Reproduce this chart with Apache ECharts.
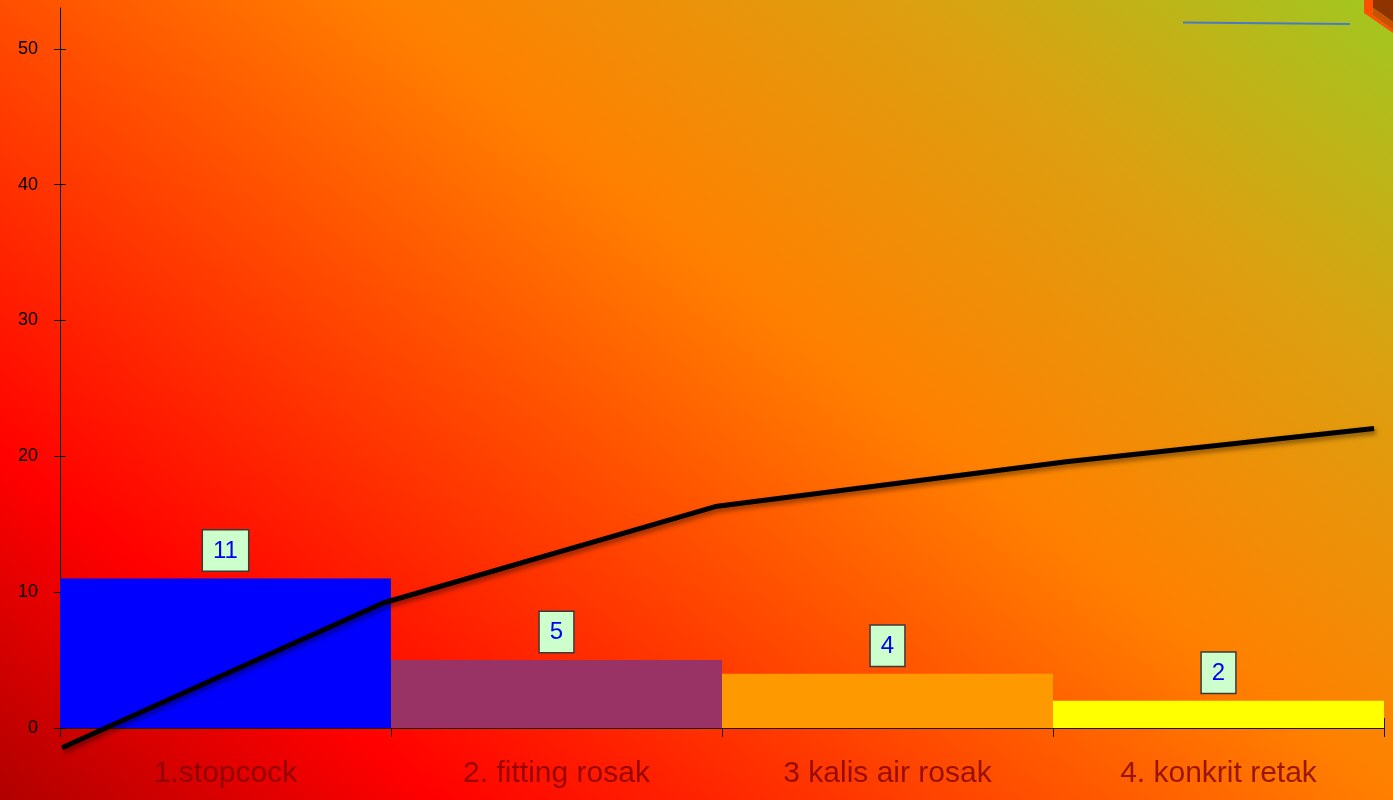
<!DOCTYPE html>
<html>
<head>
<meta charset="utf-8">
<script src="https://cdn.jsdelivr.net/npm/echarts@6/dist/echarts.min.js"></script>
<style>
  html, body { margin: 0; padding: 0; }
  #chart {
    width: 1393px; height: 800px;
    background: linear-gradient(38deg, #b00000 0%, #ff0000 18%, #ff8000 58%, #dca010 80%, #a0c820 100%);
  }
</style>
</head>
<body>
<div id="chart"></div>
<script>
// Defect categories and their counts
const categories = ['1.stopcock', '2. fitting rosak', '3 kalis air rosak', '4. konkrit retak'];
const counts = [11, 5, 4, 2];
const barColors = ['#0000ff', '#993366', '#ff9900', '#ffff00'];

// Trend line, placed on a 0..4 position scale spanning the four categories
const trendX = [0.006, 0.976, 1.98, 3.04, 3.97];
const trendY = [-1.45, 9.2, 16.3, 19.6, 22.05];

// Value axis ticks
const yTicks = [0, 10, 20, 30, 40, 50];

const chart = echarts.init(document.getElementById('chart'), null, { renderer: 'canvas' });

const font = 'Liberation Sans, Arial, sans-serif';

chart.setOption({
  backgroundColor: 'transparent',
  animation: false,
  grid: { left: 60, right: 9, top: 8, bottom: 72 },
  xAxis: [
    {
      type: 'category',
      data: categories,
      boundaryGap: true,
      axisLine: { lineStyle: { color: '#1a1a1a', width: 1 } },
      axisTick: { show: true, length: 9, lineStyle: { color: '#1a1a1a' } },
      axisLabel: {
        color: 'rgba(128,0,0,0.8)',
        fontSize: 30,
        fontFamily: font,
        margin: 31
      },
      splitLine: { show: false }
    },
    {
      type: 'category',
      data: categories,
      position: 'bottom',
      boundaryGap: true,
      axisLine: { show: false },
      axisTick: { show: true, inside: true, length: 10, lineStyle: { color: '#1a1a1a' } },
      axisLabel: { show: false },
      splitLine: { show: false }
    },
    {
      type: 'value',
      min: 0,
      max: 4,
      show: false
    }
  ],
  yAxis: [
    {
      type: 'value',
      min: 0,
      max: 53,
      interval: 10,
      position: 'left',
      axisLine: { show: true, lineStyle: { color: '#000', width: 1 } },
      axisTick: { show: true, length: 6, customValues: yTicks, lineStyle: { color: '#000' } },
      axisLabel: {
        color: '#000',
        fontSize: 18,
        fontFamily: font,
        margin: 22,
        customValues: yTicks
      },
      splitLine: { show: false }
    },
    {
      type: 'value',
      min: 0,
      max: 53,
      interval: 10,
      position: 'left',
      axisLine: { show: false },
      axisTick: { show: true, inside: true, length: 6, customValues: yTicks, lineStyle: { color: '#000' } },
      axisLabel: { show: false },
      splitLine: { show: false }
    }
  ],
  series: [
    {
      type: 'bar',
      xAxisIndex: 0,
      yAxisIndex: 0,
      barWidth: '100%',
      data: counts.map((v, i) => ({ value: v, itemStyle: { color: barColors[i] } })),
      label: {
        show: true,
        position: 'top',
        distance: 8,
        color: '#0000ee',
        fontSize: 24,
        fontFamily: font,
        lineHeight: 25,
        backgroundColor: '#ccffcc',
        borderColor: '#3a3a3a',
        borderWidth: 1.5,
        padding: [8, 10, 7, 10]
      },
      z: 2
    },
    {
      type: 'line',
      xAxisIndex: 2,
      yAxisIndex: 0,
      clip: false,
      symbol: 'none',
      data: trendX.map((x, i) => [x, trendY[i]]),
      lineStyle: {
        color: '#000',
        width: 5,
        shadowColor: 'rgba(0,0,0,0.45)',
        shadowBlur: 5,
        shadowOffsetX: 2,
        shadowOffsetY: 3
      },
      z: 3
    }
  ],
  graphic: [
    // thin legend-style stroke near the top right
    {
      type: 'line',
      shape: { x1: 1183, y1: 22.5, x2: 1350, y2: 24 },
      style: { stroke: '#4a7ac4', lineWidth: 2 },
      silent: true
    },
    // corner of a 3D block peeking in at the top right
    {
      type: 'polygon',
      shape: { points: [[1373, 0], [1393, 0], [1393, 22], [1373, 8]] },
      style: { fill: '#8e3400' },
      silent: true
    },
    {
      type: 'polygon',
      shape: { points: [[1373, 8], [1393, 22], [1393, 30], [1372, 15]] },
      style: { fill: '#c85200' },
      silent: true
    },
    {
      type: 'polygon',
      shape: { points: [[1364, 0], [1373, 0], [1373, 8], [1372, 15], [1393, 30], [1393, 33], [1364, 13]] },
      style: { fill: '#ff5000' },
      silent: true
    }
  ]
});
</script>
</body>
</html>
